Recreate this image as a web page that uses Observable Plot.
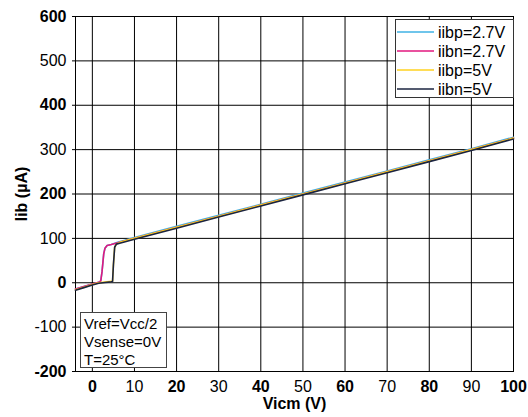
<!DOCTYPE html>
<html>
<head>
<meta charset="utf-8">
<script src="https://cdn.jsdelivr.net/npm/d3@7"></script>
<script src="https://cdn.jsdelivr.net/npm/@observablehq/plot@0.6"></script>
<style>
  html, body { margin: 0; padding: 0; background: #fff; }
  #chart { position: relative; width: 528px; height: 417px; }
</style>
</head>
<body>
<div id="chart"></div>
<script>
// ---- data ----
const vicm27 = [-4, -2, 0, 1.5, 2, 2.3, 2.7, 3, 3.5, 4.5, 6, 10, 20, 30, 40, 50, 60, 70, 80, 90, 100];
const iibp27 = [-14, -8.5, -3, 1, 4, 25, 65, 78, 84, 86, 91, 102, 127, 152, 177, 202, 227, 252, 277, 302, 328];
const iibn27 = [-14, -8.5, -3, 1, 4, 25, 65, 78, 84, 86, 90, 100, 125, 150, 175, 200, 225, 250, 275, 300, 326];
const vicm5 = [-4, -2, 0, 1.5, 3, 4.5, 4.8, 5, 5.3, 5.7, 6.5, 10, 20, 30, 40, 50, 60, 70, 80, 90, 100];
const iibp5 = [-16, -10, -4, 0, 1.5, 3, 4, 40, 80, 87, 91, 100, 125, 150, 175, 200, 225, 250, 275, 300, 326];
const iibn5 = [-17, -11, -5, -1, 0.5, 2, 3, 40, 80, 87, 89, 98, 123, 148, 173, 198, 223, 248, 273, 298, 324];
const seriesNames = ["iibp=2.7V", "iibn=2.7V", "iibp=5V", "iibn=5V"];
const seriesColors = ["#3fb2e4", "#e2177e", "#ffd21f", "#1b2440"];
const xTicks = [0, 10, 20, 30, 40, 50, 60, 70, 80, 90, 100];
const yTicks = [-200, -100, 0, 100, 200, 300, 400, 500, 600];
const notes = ["Vref=Vcc/2", "Vsense=0V", "T=25°C"];

const series = [
  {name: seriesNames[0], x: vicm27, y: iibp27, color: seriesColors[0]},
  {name: seriesNames[1], x: vicm27, y: iibn27, color: seriesColors[1]},
  {name: seriesNames[2], x: vicm5, y: iibp5, color: seriesColors[2]},
  {name: seriesNames[3], x: vicm5, y: iibn5, color: seriesColors[3]}
];
const rows = series.flatMap(s => s.x.map((x, i) => ({series: s.name, x, y: s.y[i]})));

const font = "'Liberation Sans', Arial, Helvetica, sans-serif";
const fmt = d => String(d);

const plot = Plot.plot({
  width: 528,
  height: 417,
  marginTop: 16,
  marginRight: 15,
  marginBottom: 46,
  marginLeft: 75,
  style: {fontFamily: font, fontSize: "16px", color: "#000", background: "#fff", overflow: "visible"},
  x: {domain: [-4, 100], label: null},
  y: {domain: [-200, 600], label: null},
  color: {domain: seriesNames, range: seriesColors},
  marks: [
    Plot.gridX(xTicks, {stroke: "#000", strokeOpacity: 1, strokeWidth: 1}),
    Plot.gridY(yTicks, {stroke: "#000", strokeOpacity: 1, strokeWidth: 1}),
    Plot.frame({stroke: "#000", strokeWidth: 1}),
    ...series.map(s => Plot.line(rows.filter(r => r.series === s.name), {
      x: "x", y: "y", stroke: s.color, strokeWidth: 1.6, curve: "linear"
    })),
    Plot.axisX(xTicks.filter((d, i) => i % 2 === 0), {
      tickSize: 0, tickPadding: 9, fontWeight: "bold", fontSize: 16, tickFormat: fmt,
      label: "Vicm (V)", labelAnchor: "center", labelArrow: "none", labelOffset: 37
    }),
    Plot.axisX(xTicks.filter((d, i) => i % 2 === 1), {
      tickSize: 0, tickPadding: 9, fontSize: 16, tickFormat: fmt, label: null
    }),
    Plot.axisY(yTicks.filter((d, i) => i % 2 === 0), {
      tickSize: 3, tickPadding: 6, fontWeight: "bold", fontSize: 16, tickFormat: fmt,
      label: "Iib (µA)", labelAnchor: "center", labelArrow: "none", labelOffset: 60
    }),
    Plot.axisY(yTicks.filter((d, i) => i % 2 === 1), {
      tickSize: 3, tickPadding: 6, fontSize: 16, tickFormat: fmt, label: null
    })
  ]
});

document.getElementById("chart").appendChild(plot);

// ---- legend (top right) and note box (bottom left) ----
const svg = d3.select(plot);
const leg = svg.append("g").attr("font-family", font).attr("font-size", 16).attr("text-anchor", "start");
leg.append("rect").attr("x", 395.5).attr("y", 19.5).attr("width", 118).attr("height", 78)
  .attr("fill", "#fff").attr("stroke", "#333").attr("stroke-width", 1);
series.forEach((s, i) => {
  const yy = 32 + i * 19;
  leg.append("line").attr("x1", 397).attr("x2", 434).attr("y1", yy).attr("y2", yy)
    .attr("stroke", s.color).attr("stroke-width", 1.7);
  leg.append("text").attr("x", 438).attr("y", yy).attr("dy", "0.36em").attr("fill", "#000").text(s.name);
});

const nb = svg.append("g").attr("font-family", font).attr("font-size", 15).attr("text-anchor", "start");
nb.append("rect").attr("x", 80.5).attr("y", 312.5).attr("width", 86).attr("height", 55)
  .attr("fill", "#fff").attr("stroke", "#444").attr("stroke-width", 1);
notes.forEach((t, i) => {
  nb.append("text").attr("x", 84).attr("y", 324 + i * 18).attr("dy", "0.36em").attr("fill", "#000").text(t);
});
</script>
</body>
</html>
